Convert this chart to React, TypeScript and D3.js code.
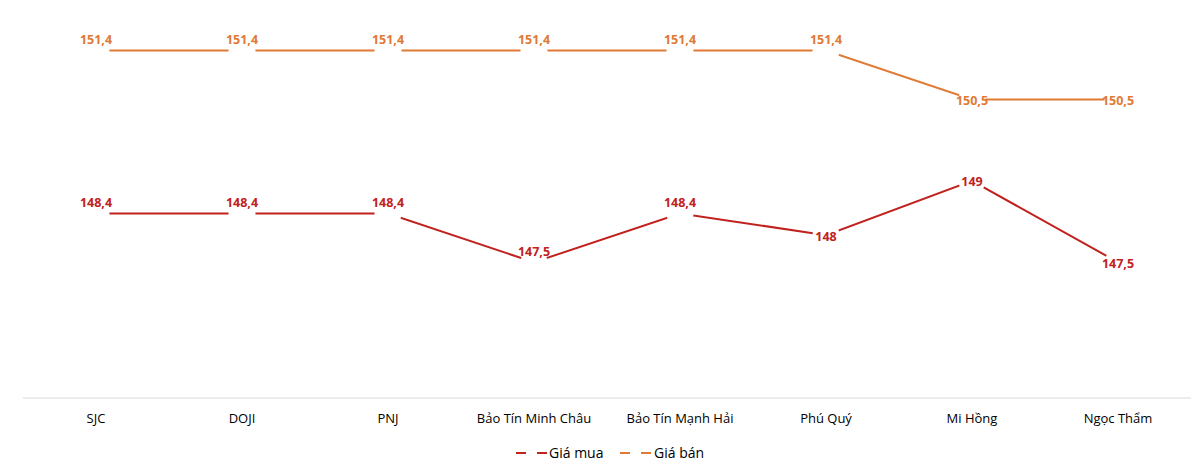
import React from "react";
import * as d3 from "d3";

const categories = ["SJC", "DOJI", "PNJ", "Bảo Tín Minh Châu", "Bảo Tín Mạnh Hải", "Phú Quý", "Mi Hồng", "Ngọc Thẩm"];
const giaMua = [148.4, 148.4, 148.4, 147.5, 148.4, 148, 149, 147.5];
const giaBan = [151.4, 151.4, 151.4, 151.4, 151.4, 151.4, 150.5, 150.5];
// label placement flags: true = label sits above the point, false = centred on it
const muaLabelAbove = [true, true, true, true, true, false, false, false];
const banLabelAbove = [true, true, true, true, true, true, false, false];
const yDomain = [145, 152];

const W = 1200;
const H = 468;
const FONT = "'Open Sans', 'Liberation Sans', sans-serif";

const fmt = (v: number) => String(v).replace(".", ",");

export default function App() {
  const x = d3.scaleBand<string>().domain(categories).range([23, 1191]);
  const y = d3.scaleLinear().domain(yDomain).range([398, 18]);
  const cx = (c: string) => (x(c) as number) + x.bandwidth() / 2;

  const series = [
    { name: "Giá mua", values: giaMua, color: "#C0221E", above: muaLabelAbove },
    { name: "Giá bán", values: giaBan, color: "#E07A35", above: banLabelAbove },
  ];

  const line = d3
    .line<number>()
    .x((_, i) => cx(categories[i]))
    .y((d) => y(d));

  return (
    <svg width={W} height={H} style={{ position: "absolute", left: 0, top: 0, background: "#fff" }}>
      <rect width={W} height={H} fill="#fff" />
      <line x1={23} x2={1191} y1={y(yDomain[0])} y2={y(yDomain[0])} stroke="#D9D9D9" strokeWidth={1} />
      {categories.map((c) => (
        <text key={c} x={cx(c)} y={423} textAnchor="middle" fontFamily={FONT} fontSize={13} fill="#000">
          {c}
        </text>
      ))}
      {series.map((s) => (
        <g key={s.name}>
          <path d={line(s.values) as string} fill="none" stroke={s.color} strokeWidth={2} />
          {s.values.map((v, i) => (
            <circle key={i} cx={cx(categories[i])} cy={y(v)} r={13.5} fill="#fff" />
          ))}
        </g>
      ))}
      {series.map((s) => (
        <g key={s.name + "-lbl"}>
          {s.values.map((v, i) => (
            <text
              key={i}
              x={cx(categories[i])}
              y={y(v) + (s.above[i] ? -10.5 : 1)}
              dy="0.35em"
              textAnchor="middle"
              fontFamily={FONT}
              fontSize={12.5}
              fontWeight="bold"
              fill={s.color}
            >
              {fmt(v)}
            </text>
          ))}
        </g>
      ))}
      {/* legend */}
      {[
        { s: series[0], x0: 516, tx: 549 },
        { s: series[1], x0: 620, tx: 654 },
      ].map(({ s, x0, tx }) => (
        <g key={s.name + "-leg"}>
          <line x1={x0} x2={x0 + 10} y1={453} y2={453} stroke={s.color} strokeWidth={2} />
          <line x1={x0 + 21} x2={x0 + 31} y1={453} y2={453} stroke={s.color} strokeWidth={2} />
          <text x={tx} y={453} dy="0.35em" fontFamily={FONT} fontSize={14} fill="#000">
            {s.name}
          </text>
        </g>
      ))}
    </svg>
  );
}
